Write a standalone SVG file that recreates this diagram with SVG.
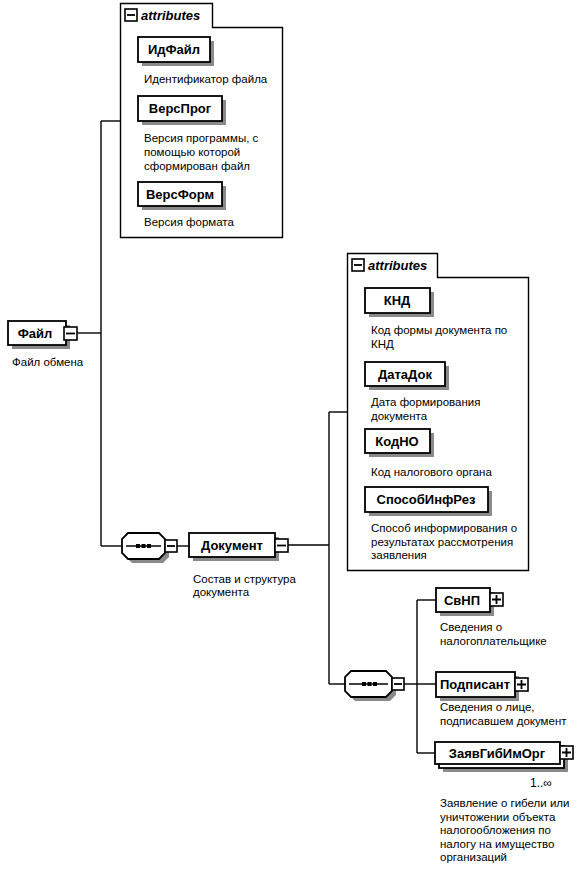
<svg xmlns="http://www.w3.org/2000/svg" width="582" height="871" viewBox="0 0 582 871">
<style>
.bg{fill:#fff}
.box{fill:#fff;stroke:#000;stroke-width:1.8}
.sh{fill:#8a8a8a}
.cont{fill:#fff;stroke:#000;stroke-width:1.4}
.lbl{font-family:"Liberation Sans",Arial,sans-serif;font-weight:bold;font-size:13px;text-anchor:middle;fill:#000}
.desc{font-family:"Liberation Sans",Arial,sans-serif;font-size:11.5px;fill:#000}
.attr{font-family:"Liberation Sans",Arial,sans-serif;font-style:italic;font-weight:bold;font-size:13px;fill:#000}
.ln{stroke:#000;stroke-width:1.4;fill:none}
.ic{fill:#fff;stroke:#000;stroke-width:1.6}
.icl{stroke:#000;stroke-width:1.8;fill:none}
.dot{fill:#000}
</style>
<rect class="bg" x="0" y="0" width="582" height="871"/>

<g id="connectors">
  <path class="ln" d="M77,333 H101"/>
  <path class="ln" d="M101,121 V546"/>
  <path class="ln" d="M101,121 H120"/>
  <path class="ln" d="M101,546 H122"/>
  <path class="ln" d="M177,546 H189"/>
  <path class="ln" d="M288,545 H329"/>
  <path class="ln" d="M329,412 V684"/>
  <path class="ln" d="M329,412 H347"/>
  <path class="ln" d="M329,684 H345"/>
  <path class="ln" d="M404,684 H417"/>
  <path class="ln" d="M417,600 V753"/>
  <path class="ln" d="M417,600 H436"/>
  <path class="ln" d="M417,684 H436"/>
  <path class="ln" d="M417,753 H435"/>
</g>

<g id="attrs1">
  <path class="cont" d="M120.5,3.5 H212.5 V27.5 H282.5 V237.5 H120.5 Z"/>
  <rect class="ic" x="125" y="9" width="12" height="12"/>
  <path class="icl" d="M127,15 H135"/>
  <text class="attr" x="141" y="20">attributes</text>
</g>

<g id="ИдФайл">
  <rect class="sh" x="142" y="41" width="72" height="25"/>
  <rect class="box" x="138" y="37" width="72" height="25"/>
  <text class="lbl" x="174" y="54">ИдФайл</text>
  <text class="desc" x="144" y="83">Идентификатор файла</text>
</g>

<g id="ВерсПрог">
  <rect class="sh" x="142" y="100" width="84" height="25"/>
  <rect class="box" x="138" y="96" width="84" height="25"/>
  <text class="lbl" x="180" y="113">ВерсПрог</text>
  <text class="desc" x="144" y="142">Версия программы, с</text>
  <text class="desc" x="144" y="156">помощью которой</text>
  <text class="desc" x="144" y="170">сформирован файл</text>
</g>

<g id="ВерсФорм">
  <rect class="sh" x="142" y="186" width="84" height="24"/>
  <rect class="box" x="138" y="182" width="84" height="24"/>
  <text class="lbl" x="180" y="199">ВерсФорм</text>
  <text class="desc" x="144" y="226">Версия формата</text>
</g>

<g id="Файл">
  <rect class="sh" x="12" y="325" width="58" height="24"/>
  <rect class="box" x="8" y="321" width="58" height="24"/>
  <text class="lbl" x="35" y="338">Файл</text>
  <rect class="ic" x="64" y="327" width="13" height="13"/>
  <path class="icl" d="M66,333.5 H75"/>
  <text class="desc" x="12" y="366">Файл обмена</text>
</g>

<g id="seq1">
  <path class="sh" d="M132,537 H163 L169,543 V557 L163,563 H132 L126,557 V543 Z"/>
  <path class="box" d="M128,533 H159 L165,539 V553 L159,559 H128 L122,553 V539 Z"/>
  <path class="ln" d="M126,546 H161"/>
  <rect class="dot" x="136" y="544" width="4" height="4"/>
  <rect class="dot" x="141.5" y="544" width="4" height="4"/>
  <rect class="dot" x="147" y="544" width="4" height="4"/>
  <rect class="ic" x="165" y="540" width="12" height="12"/>
  <path class="icl" d="M167,546 H175"/>
</g>

<g id="Документ">
  <rect class="sh" x="193" y="537" width="86" height="24"/>
  <rect class="box" x="189" y="533" width="86" height="24"/>
  <text class="lbl" x="232" y="550">Документ</text>
  <rect class="ic" x="275" y="539" width="13" height="13"/>
  <path class="icl" d="M277,545.5 H286"/>
  <text class="desc" x="193" y="583">Состав и структура</text>
  <text class="desc" x="193" y="596">документа</text>
</g>

<g id="attrs2">
  <path class="cont" d="M347.5,253.5 H437.5 V277.5 H528.5 V570.5 H347.5 Z"/>
  <rect class="ic" x="352" y="259" width="12" height="12"/>
  <path class="icl" d="M354,265 H362"/>
  <text class="attr" x="368" y="270">attributes</text>
</g>

<g id="КНД">
  <rect class="sh" x="369" y="292" width="65" height="25"/>
  <rect class="box" x="365" y="288" width="65" height="25"/>
  <text class="lbl" x="397" y="305">КНД</text>
  <text class="desc" x="371" y="334">Код формы документа по</text>
  <text class="desc" x="371" y="348">КНД</text>
</g>

<g id="ДатаДок">
  <rect class="sh" x="369" y="366" width="80" height="24"/>
  <rect class="box" x="365" y="362" width="80" height="24"/>
  <text class="lbl" x="405" y="379">ДатаДок</text>
  <text class="desc" x="371" y="406">Дата формирования</text>
  <text class="desc" x="371" y="420">документа</text>
</g>

<g id="КодНО">
  <rect class="sh" x="369" y="433" width="65" height="24"/>
  <rect class="box" x="365" y="429" width="65" height="24"/>
  <text class="lbl" x="397" y="446">КодНО</text>
  <text class="desc" x="371" y="476">Код налогового органа</text>
</g>

<g id="СпособИнфРез">
  <rect class="sh" x="369" y="491" width="123" height="25"/>
  <rect class="box" x="365" y="487" width="123" height="25"/>
  <text class="lbl" x="426" y="504">СпособИнфРез</text>
  <text class="desc" x="371" y="532">Способ информирования о</text>
  <text class="desc" x="371" y="546">результатах рассмотрения</text>
  <text class="desc" x="371" y="559">заявления</text>
</g>

<g id="seq2">
  <path class="sh" d="M355,675 H390 L396,681 V695 L390,701 H355 L349,695 V681 Z"/>
  <path class="box" d="M351,671 H386 L392,677 V691 L386,697 H351 L345,691 V677 Z"/>
  <path class="ln" d="M349,684 H388"/>
  <rect class="dot" x="362" y="682" width="4" height="4"/>
  <rect class="dot" x="367.5" y="682" width="4" height="4"/>
  <rect class="dot" x="373" y="682" width="4" height="4"/>
  <rect class="ic" x="392" y="678" width="12" height="12"/>
  <path class="icl" d="M394,684 H402"/>
</g>

<g id="СвНП">
  <rect class="sh" x="440" y="592" width="54" height="24"/>
  <rect class="box" x="436" y="588" width="54" height="24"/>
  <text class="lbl" x="462" y="605">СвНП</text>
  <rect class="ic" x="490" y="593" width="13" height="13"/>
  <path class="icl" d="M492,599.5 H501 M496.5,595 V604"/>
  <text class="desc" x="440" y="631">Сведения о</text>
  <text class="desc" x="440" y="645">налогоплательщике</text>
</g>

<g id="Подписант">
  <rect class="sh" x="440" y="676" width="79" height="25"/>
  <rect class="box" x="436" y="672" width="79" height="25"/>
  <text class="lbl" x="475" y="689">Подписант</text>
  <rect class="ic" x="515" y="678" width="13" height="13"/>
  <path class="icl" d="M517,684.5 H526 M521.5,680 V689"/>
  <text class="desc" x="440" y="711">Сведения о лице,</text>
  <text class="desc" x="440" y="725">подписавшем документ</text>
</g>

<g id="ЗаявГибИмОрг">
  <rect class="sh" x="443" y="750" width="125" height="22"/>
  <rect class="box" x="439" y="746" width="125" height="22"/>
  <rect class="box" x="435" y="742" width="125" height="22"/>
  <text class="lbl" x="497" y="758">ЗаявГибИмОрг</text>
  <rect class="ic" x="560" y="746" width="13" height="13"/>
  <path class="icl" d="M562,752.5 H571 M566.5,748 V757"/>
  <text class="desc" x="530" y="787" style="font-size:12px">1..∞</text>
  <text class="desc" x="440" y="807">Заявление о гибели или</text>
  <text class="desc" x="440" y="820.5">уничтожении объекта</text>
  <text class="desc" x="440" y="834">налогообложения по</text>
  <text class="desc" x="440" y="847.5">налогу на имущество</text>
  <text class="desc" x="440" y="861">организаций</text>
</g>
</svg>
